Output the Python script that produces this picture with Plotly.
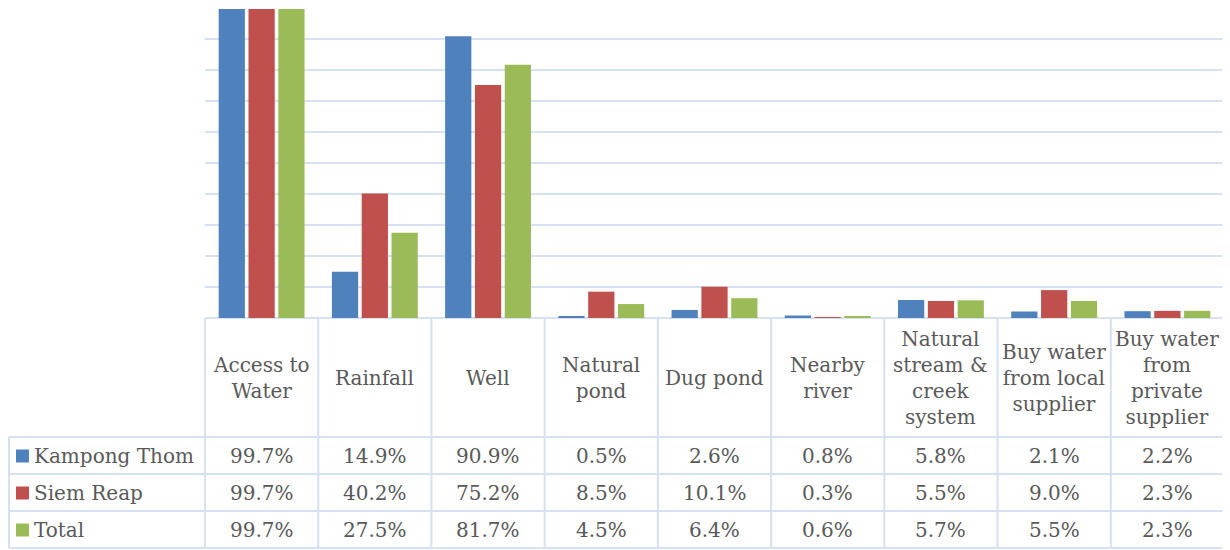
import plotly.graph_objects as go

categories = ["Access to Water", "Rainfall", "Well", "Natural pond", "Dug pond",
              "Nearby river", "Natural stream & creek system",
              "Buy water from local supplier", "Buy water from private supplier"]
header_labels = ["Access to<br>Water", "Rainfall", "Well", "Natural<br>pond", "Dug pond",
                 "Nearby<br>river", "Natural<br>stream &<br>creek<br>system",
                 "Buy water<br>from local<br>supplier", "Buy water<br>from<br>private<br>supplier"]
series_names = ["Kampong Thom", "Siem Reap", "Total"]
kampong_thom = [99.7, 14.9, 90.9, 0.5, 2.6, 0.8, 5.8, 2.1, 2.2]
siem_reap = [99.7, 40.2, 75.2, 8.5, 10.1, 0.3, 5.5, 9.0, 2.3]
total = [99.7, 27.5, 81.7, 4.5, 6.4, 0.6, 5.7, 5.5, 2.3]
series_values = [kampong_thom, siem_reap, total]
colors = ["#4f81bd", "#c0504d", "#9bbb59"]

# page body has an 8px margin; work in screen pixels and offset
OFF = 8
W, H = 1230 - OFF, 550 - OFF
PLOT_L, PLOT_R, PLOT_T, PLOT_B = 205, 1224, 8, 318   # screen px
ML, MR, MT, MB = PLOT_L - OFF, (W + OFF) - PLOT_R, PLOT_T - OFF, (H + OFF) - PLOT_B
PW = W - ML - MR
PH = H - MT - MB
FONT = "DejaVu Serif"
FS = 20
TXT = "#595959"
LINE = "#d6e1f1"

def px_x(px):
    return (px - PLOT_L) / PW

def px_y(py):
    return (PLOT_B - py) / PH

fig = go.Figure()
idx = list(range(len(categories)))
for name, vals, col in zip(series_names, series_values, colors):
    fig.add_trace(go.Bar(x=idx, y=vals, name=name, marker=dict(color=col, line=dict(width=0)),
                         hoverinfo="y+name"))

shapes = []
annotations = []

header_bottom = 437
row_bounds = [437, 474, 511, 548]
left_edge = 9
ncat = len(categories)

for i in range(ncat + 1):
    shapes.append(dict(type="line", xref="paper", yref="paper",
                       x0=i / ncat, x1=i / ncat, y0=0, y1=px_y(row_bounds[-1]),
                       line=dict(color=LINE, width=2)))
shapes.append(dict(type="line", xref="paper", yref="paper",
                   x0=px_x(left_edge), x1=px_x(left_edge),
                   y0=px_y(row_bounds[0]), y1=px_y(row_bounds[-1]),
                   line=dict(color=LINE, width=2)))
for rb in row_bounds:
    shapes.append(dict(type="line", xref="paper", yref="paper",
                       x0=px_x(left_edge), x1=1, y0=px_y(rb), y1=px_y(rb),
                       line=dict(color=LINE, width=2)))

for i, lab in enumerate(header_labels):
    annotations.append(dict(x=i, xref="x", y=px_y((PLOT_B + header_bottom) / 2), yref="paper",
                            text=lab, showarrow=False, xanchor="center", yanchor="middle",
                            font=dict(family=FONT, size=FS, color=TXT)))

for r, (name, vals, col) in enumerate(zip(series_names, series_values, colors)):
    yc = (row_bounds[r] + row_bounds[r + 1]) / 2
    for i, v in enumerate(vals):
        annotations.append(dict(x=i, xref="x", y=px_y(yc), yref="paper",
                                text=f"{v:.1f}%", showarrow=False, xanchor="center",
                                yanchor="middle", font=dict(family=FONT, size=FS, color=TXT)))
    annotations.append(dict(x=px_x(32), xref="paper", y=px_y(yc), yref="paper",
                            text=name, showarrow=False, xanchor="left", yanchor="middle",
                            font=dict(family=FONT, size=FS, color=TXT)))
    shapes.append(dict(type="rect", xref="paper", yref="paper",
                       x0=px_x(16), x1=px_x(29), y0=px_y(yc - 6), y1=px_y(yc + 7),
                       fillcolor=col, line=dict(width=0)))

fig.update_layout(
    width=W, height=H,
    margin=dict(l=ML, r=MR, t=MT, b=MB, pad=0),
    paper_bgcolor="white", plot_bgcolor="white",
    barmode="group", bargap=0.21, bargroupgap=0.12,
    showlegend=False,
    shapes=shapes, annotations=annotations,
    font=dict(family=FONT, color=TXT),
    xaxis=dict(range=[-0.5, ncat - 0.5], showticklabels=False, showgrid=False,
               zeroline=False, showline=False, ticks=""),
    yaxis=dict(range=[0, 100], dtick=10, showticklabels=False, showgrid=True,
               gridcolor=LINE, gridwidth=2, zeroline=True, zerolinecolor=LINE,
               zerolinewidth=2, showline=False, ticks=""),
)

fig.write_html("out.html")
